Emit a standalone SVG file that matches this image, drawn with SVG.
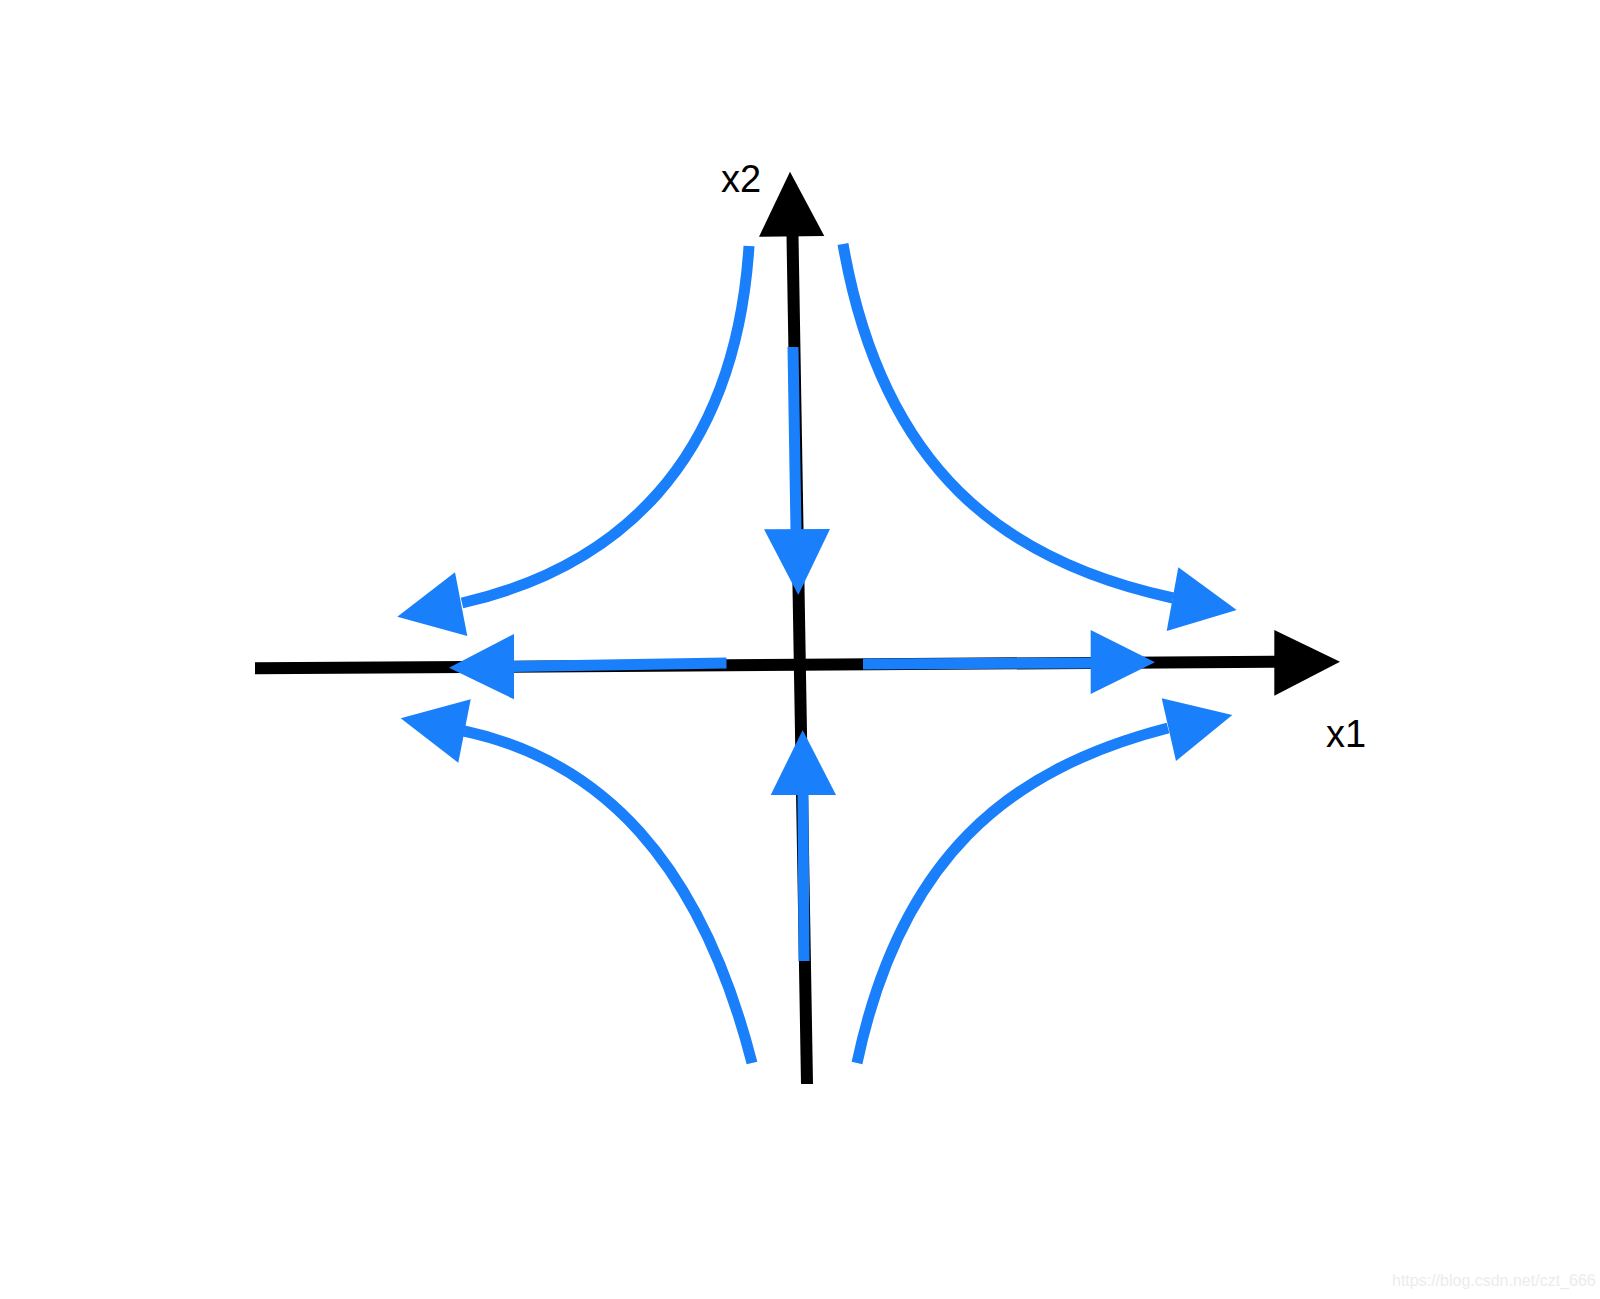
<svg xmlns="http://www.w3.org/2000/svg" width="1600" height="1299" viewBox="0 0 1600 1299">
<style>
.axis{stroke:#000;stroke-width:12;fill:none}
.ahead{fill:#000}
.flow{stroke:#1a7ffa;stroke-width:11;fill:none}
.bhead{fill:#1a7ffa}
.lbl{font-family:"Liberation Sans",Arial,sans-serif;font-size:38px;fill:#000}
.wm{font-family:"Liberation Sans",Arial,sans-serif;font-size:16px;fill:#ececec}
</style>
<rect width="1600" height="1299" fill="#fff"/>
<g id="connectors">
  <g id="axis-x1">
    <line class="axis" x1="255" y1="668.3" x2="1275" y2="661.7"/>
    <polygon class="ahead" points="1274.3,630 1340,661.7 1274.3,695.7"/>
  </g>
  <g id="axis-x2">
    <line class="axis" x1="807" y1="1084" x2="792.5" y2="236"/>
    <polygon class="ahead" points="759,236.7 790,171.7 824.3,236"/>
  </g>
  <g id="flow-down">
    <line class="flow" x1="793" y1="347" x2="796" y2="530"/>
    <polygon class="bhead" points="764,529.3 830,529 798.3,595"/>
  </g>
  <g id="flow-up">
    <line class="flow" x1="804" y1="961" x2="803" y2="794"/>
    <polygon class="bhead" points="770.7,795 836,795 802.7,730"/>
  </g>
  <g id="flow-left">
    <line class="flow" x1="726.5" y1="663" x2="513" y2="666.5"/>
    <polygon class="bhead" points="514,634 449,667.7 514,699.3"/>
  </g>
  <g id="flow-right">
    <line class="flow" x1="863" y1="664" x2="1091" y2="663"/>
    <polygon class="bhead" points="1090.7,630 1155,662.3 1090.7,694"/>
  </g>
  <g id="curve-top-left">
    <path class="flow" d="M749,246 C735,465 615,568 462,603"/>
    <polygon class="bhead" points="455,572.3 397.3,616.7 467.3,636"/>
  </g>
  <g id="curve-top-right">
    <path class="flow" d="M843,244 C882,470 1005,562 1173,598"/>
    <polygon class="bhead" points="1178.3,567.3 1236.7,610 1166.7,631"/>
  </g>
  <g id="curve-bottom-left">
    <path class="flow" d="M752,1063 C700,860 600,760 464,731"/>
    <polygon class="bhead" points="470.7,699.3 400.7,718.3 458.3,762.7"/>
  </g>
  <g id="curve-bottom-right">
    <path class="flow" d="M857,1063 C900,860 1005,770 1168,728"/>
    <polygon class="bhead" points="1161.7,698.3 1232.3,715 1176,761"/>
  </g>
</g>
<g id="label-x2"><text class="lbl" x="721" y="192">x2</text></g>
<g id="label-x1"><text class="lbl" x="1326" y="747">x1</text></g>
<text class="wm" x="1392" y="1286">https://blog.csdn.net/czt_666</text>
</svg>
